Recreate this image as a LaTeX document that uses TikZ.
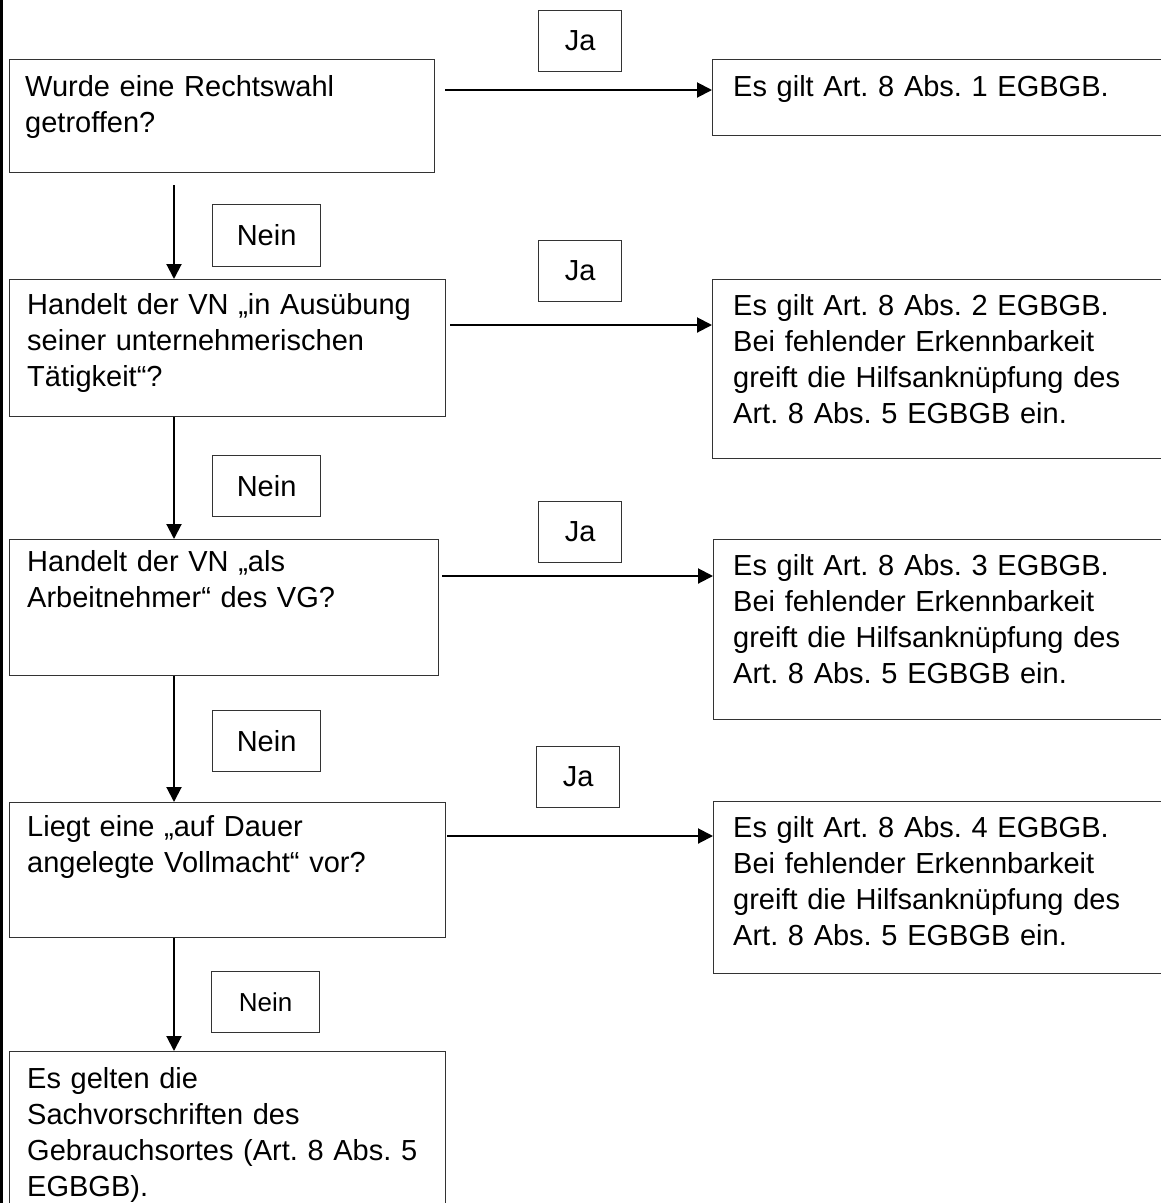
\documentclass[tikz,border=0pt]{standalone}
\usepackage{fontspec}
\setmainfont{Liberation Sans}
\usetikzlibrary{arrows.meta}
\frenchspacing
\begin{document}
\begin{tikzpicture}[x=1pt,y=-1pt,
  box/.style={draw=black!80, line width=1.2pt, rectangle, inner sep=0pt, anchor=north west},
  lbl/.style={box, minimum width=83pt, minimum height=61pt, font=\fontsize{29}{34}\selectfont},
  smalllbl/.style={box, minimum width=108pt, minimum height=61pt, font=\fontsize{26}{30}\selectfont},
  txt/.style={anchor=base west, inner sep=0pt, text width=440pt, align=left, font=\fontsize{29}{36}\selectfont},
  arr/.style={line width=2pt, -{Triangle[length=15pt,width=15pt]}},
]
\useasboundingbox (0,0) rectangle (1161,1203);
\clip (0,0) rectangle (1161,1203);
\fill[black] (0,0) rectangle (3,1203);

% question boxes
\node[box, minimum width=425pt, minimum height=113pt] (q1) at (9,59) {};
\node[box, minimum width=436pt, minimum height=137pt] (q2) at (9,279) {};
\node[box, minimum width=429pt, minimum height=136pt] (q3) at (9,539) {};
\node[box, minimum width=436pt, minimum height=135pt] (q4) at (9,802) {};
\node[box, minimum width=436pt, minimum height=170pt] (q5) at (9,1051) {};

% result boxes (cut off at the right edge)
\node[box, minimum width=460pt, minimum height=76pt] (r1) at (712,59) {};
\node[box, minimum width=460pt, minimum height=179pt] (r2) at (712,279) {};
\node[box, minimum width=460pt, minimum height=180pt] (r3) at (713,539) {};
\node[box, minimum width=460pt, minimum height=172pt] (r4) at (713,801) {};

% texts
\node[txt] (q1t) at (25,96) {Wurde eine Rechtswahl\\getroffen?};
\node[txt] (q2t) at (27,314) {Handelt der VN „in Ausübung\\seiner unternehmerischen\\Tätigkeit“?};
\node[txt] (q3t) at (27,571) {Handelt der VN „als\\Arbeitnehmer“ des VG?};
\node[txt] (q4t) at (27,836) {Liegt eine „auf Dauer\\angelegte Vollmacht“ vor?};
\node[txt] (q5t) at (27,1088) {Es gelten die\\Sachvorschriften des\\Gebrauchsortes (Art. 8 Abs. 5\\EGBGB).};

\node[txt] (r1t) at (733,96) {Es gilt Art. 8 Abs. 1 EGBGB.};
\node[txt] (r2t) at (733,315) {Es gilt Art. 8 Abs. 2 EGBGB.\\Bei fehlender Erkennbarkeit\\greift die Hilfsanknüpfung des\\Art. 8 Abs. 5 EGBGB ein.};
\node[txt] (r3t) at (733,575) {Es gilt Art. 8 Abs. 3 EGBGB.\\Bei fehlender Erkennbarkeit\\greift die Hilfsanknüpfung des\\Art. 8 Abs. 5 EGBGB ein.};
\node[txt] (r4t) at (733,837) {Es gilt Art. 8 Abs. 4 EGBGB.\\Bei fehlender Erkennbarkeit\\greift die Hilfsanknüpfung des\\Art. 8 Abs. 5 EGBGB ein.};

% Ja labels
\node[lbl] (ja1) at (538,10) {Ja};
\node[lbl] (ja2) at (538,240) {Ja};
\node[lbl] (ja3) at (538,501) {Ja};
\node[lbl] (ja4) at (536,746) {Ja};

% Nein labels
\node[lbl, minimum width=108pt, minimum height=62pt] (nein1) at (212,204) {Nein};
\node[lbl, minimum width=108pt] (nein2) at (212,455) {Nein};
\node[lbl, minimum width=108pt] (nein3) at (212,710) {Nein};
\node[smalllbl] (nein4) at (211,971) {Nein};

% horizontal arrows (Ja)
\coordinate (h1) at (445,90);
\coordinate (h2) at (450,325);
\coordinate (h3) at (442,576);
\coordinate (h4) at (447,836);
\draw[arr] (h1) -- (h1 -| r1.west);
\draw[arr] (h2) -- (h2 -| r2.west);
\draw[arr] (h3) -- (h3 -| r3.west);
\draw[arr] (h4) -- (h4 -| r4.west);

% vertical arrows (Nein)
\coordinate (v1) at (174,185);
\draw[arr] (v1) -- (v1 |- q2.north);
\draw[arr] (q2.south -| v1) -- (v1 |- q3.north);
\draw[arr] (q3.south -| v1) -- (v1 |- q4.north);
\draw[arr] (q4.south -| v1) -- (v1 |- q5.north);
\end{tikzpicture}
\end{document}
